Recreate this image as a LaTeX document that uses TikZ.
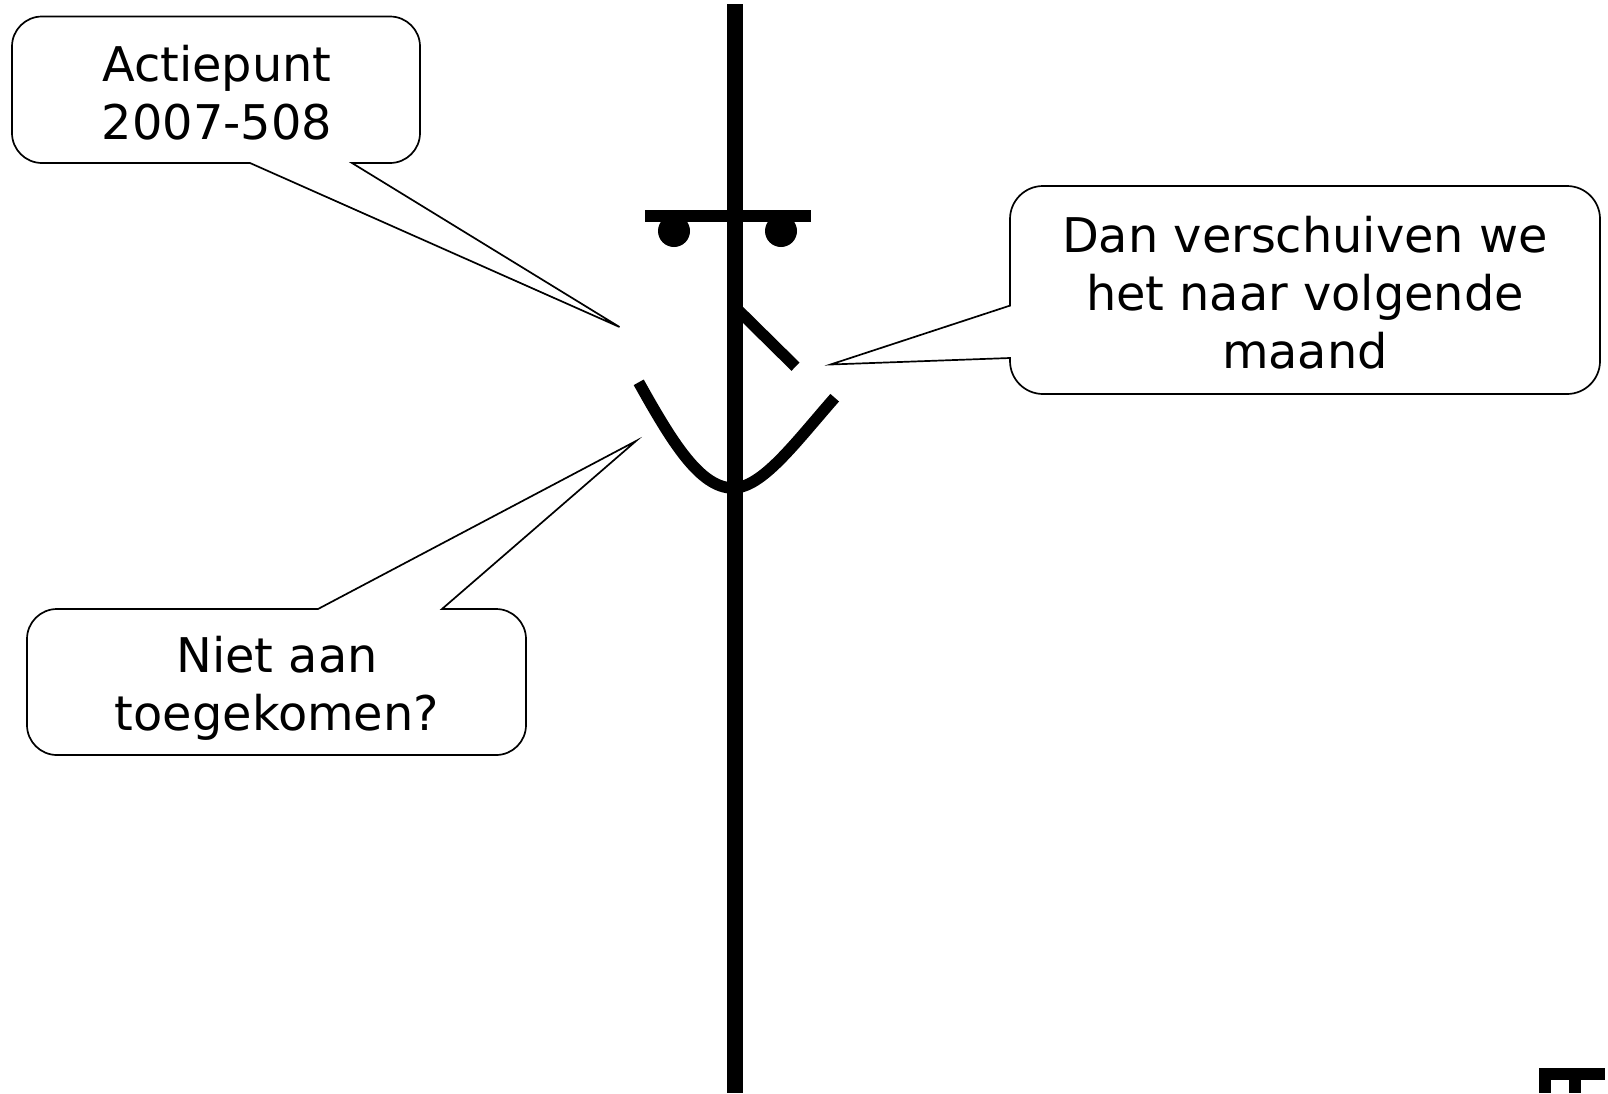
\documentclass[tikz,border=0pt]{standalone}
\usepackage{fontspec}
\setmainfont{DejaVu Sans}
\begin{document}
\begin{tikzpicture}[x=1pt,y=-1pt,
  callout/.style={draw=black,line width=1.7pt,fill=white,line join=miter},
  calltext/.style={font=\fontsize{47.8}{57.8}\selectfont,align=center,inner sep=0pt,text=black},
  thick stroke/.style={draw=black,line width=#1}]
\useasboundingbox (0,0) rectangle (1608,1093);
\fill[white] (0,0) rectangle (1608,1093);
% face
\fill[black] (727.2,4) rectangle (743.2,1093);
\fill[black] (644.5,210) rectangle (811,222.4);
\fill[black] (674,231) circle (16);
\fill[black] (781,231) circle (16);
\draw[thick stroke=11.5pt] (735.5,307.5) -- (795.5,366.7);
\draw[thick stroke=11.5pt] (638.7,382.3) .. controls (672,442) and (700,488) .. (733,488) .. controls (762,488) and (795,443) .. (834.7,397.7);
% mark
\fill[black] (1539,1068) rectangle (1605,1080);
\fill[black] (1539,1068) rectangle (1551,1093);
\fill[black] (1569,1068) rectangle (1581,1093);
% callouts
\draw[callout] (42,16.5) -- (390,16.5) arc[start angle=-90,end angle=0,radius=30] -- (420,133) arc[start angle=0,end angle=90,radius=30] -- (352,163) -- (619.5,327) -- (250,163) -- (42,163) arc[start angle=90,end angle=180,radius=30] -- (12,46.5) arc[start angle=180,end angle=270,radius=30] -- cycle;
\node[calltext] (actie) at (217,92.5) {Actiepunt\\2007-508};
\draw[callout] (1043,186) -- (1567,186) arc[start angle=-90,end angle=0,radius=33] -- (1600,361) arc[start angle=0,end angle=90,radius=33] -- (1043,394) arc[start angle=90,end angle=180,radius=33] -- (1010,358) -- (830.5,364.5) -- (1010,305.6) -- (1010,219) arc[start angle=180,end angle=270,radius=33] -- cycle;
\node[calltext] (dan) at (1305,292.5) {Dan verschuiven we\\het naar volgende\\maand};
\draw[callout] (57,609) -- (318,609) -- (636,441) -- (442,609) -- (496,609) arc[start angle=-90,end angle=0,radius=30] -- (526,725) arc[start angle=0,end angle=90,radius=30] -- (57,755) arc[start angle=90,end angle=180,radius=30] -- (27,639) arc[start angle=180,end angle=270,radius=30] -- cycle;
\node[calltext] (niet) at (277,688.5) {Niet aan\\toegekomen?};
\end{tikzpicture}
\end{document}
